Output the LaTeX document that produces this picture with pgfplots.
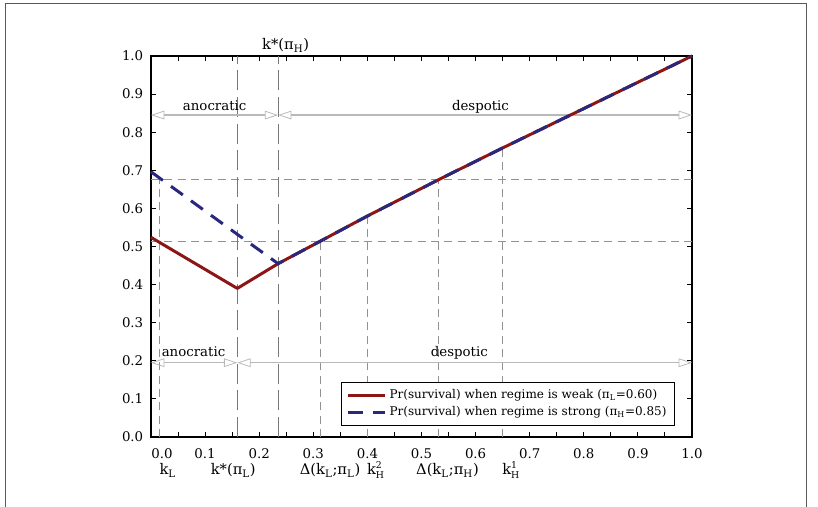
\documentclass[border=0pt]{standalone}
\usepackage{fontspec}
\setmainfont{DejaVu Serif}
\usepackage{pgfplots}
\pgfplotsset{compat=1.18}
\usetikzlibrary{arrows.meta}
\definecolor{myred}{RGB}{140,22,22}
\definecolor{myblue}{RGB}{40,40,125}
\definecolor{refgray}{RGB}{145,145,145}
\definecolor{kgray}{RGB}{120,120,120}
\definecolor{arrgray}{RGB}{185,185,185}
\newcommand{\supsub}[2]{\makebox[0pt][l]{\raisebox{5.2pt}{\fontsize{7}{8}\selectfont #1}}\raisebox{-2.6pt}{\fontsize{7}{8}\selectfont #2}}
\begin{document}
\begin{tikzpicture}[x=0.75pt,y=0.75pt]
\useasboundingbox (0,0) rectangle (818,507);
\draw[black!65, line width=0.75pt] (5,0) -- (5,503) -- (806,503) -- (806,0);
\begin{axis}[
  at={(113.25pt,52.5pt)}, anchor=south west,
  width=405.75pt, height=285.75pt, scale only axis,
  xmin=0, xmax=1, ymin=0, ymax=1,
  clip=false,
  axis line style={line width=1.5pt},
  tick style={black, line width=0.75pt},
  tick align=inside,
  major tick length=3.5pt, minor tick length=3.5pt,
  xtick={0,0.1,0.2,0.3,0.4,0.5,0.6,0.7,0.8,0.9,1},
  xticklabels={{},0.1,0.2,0.3,0.4,0.5,0.6,0.7,0.8,0.9,1.0},
  minor x tick num=1,
  extra x ticks={0.0205},
  extra x tick labels={0.0},
  extra x tick style={major tick length=0pt},
  ytick={0,0.1,0.2,0.3,0.4,0.5,0.6,0.7,0.8,0.9,1},
  yticklabels={0.0,0.1,0.2,0.3,0.4,0.5,0.6,0.7,0.8,0.9,1.0},
  ticklabel style={font=\fontsize{10}{12}\selectfont},
  xticklabel style={yshift=-5pt},
  yticklabel style={xshift=-2.3pt},
  legend style={at={(0.9686,0.145)}, anchor=north east, draw=black, line width=0.75pt,
    font=\fontsize{9}{11}\selectfont, inner xsep=4pt, inner ysep=3.5pt, row sep=0.6pt,
    cells={anchor=west}},
  legend image code/.code={\draw[#1] (0pt,0pt) -- (28pt,0pt);},
]
% reference lines
\addplot[forget plot, refgray, line width=0.75pt, dash pattern=on 6pt off 4pt] coordinates {(0,0.675) (1,0.675)};
\addplot[forget plot, refgray, line width=0.75pt, dash pattern=on 6pt off 4pt] coordinates {(0,0.514) (1,0.514)};
\addplot[forget plot, refgray, line width=0.75pt, dash pattern=on 6pt off 4pt] coordinates {(0.0148,0) (0.0148,0.675)};
\addplot[forget plot, kgray, line width=0.75pt, dash pattern=on 15pt off 5pt] coordinates {(0.1595,0) (0.1595,1)};
\addplot[forget plot, kgray, line width=0.75pt, dash pattern=on 15pt off 5pt] coordinates {(0.235,0) (0.235,1)};
\addplot[forget plot, refgray, line width=0.75pt, dash pattern=on 6pt off 4pt] coordinates {(0.313,0) (0.313,0.514)};
\addplot[forget plot, refgray, line width=0.75pt, dash pattern=on 6pt off 4pt] coordinates {(0.4,0) (0.4,0.58)};
\addplot[forget plot, refgray, line width=0.75pt, dash pattern=on 6pt off 4pt] coordinates {(0.531,0) (0.531,0.675)};
\addplot[forget plot, refgray, line width=0.75pt, dash pattern=on 6pt off 4pt] coordinates {(0.649,0) (0.649,0.758)};
% regime arrows
\tikzset{reg/.style={arrgray, line width=1.1pt,
  {Triangle[open,length=10pt,width=6.5pt,line width=0.6pt]}-{Triangle[open,length=10pt,width=6.5pt,line width=0.6pt]}}}
\draw[reg] (axis cs:0,0.845) -- (axis cs:0.235,0.845);
\draw[reg] (axis cs:0.235,0.845) -- (axis cs:1,0.845);
\draw[reg] (axis cs:0,0.195) -- (axis cs:0.1595,0.195);
\draw[reg] (axis cs:0.1595,0.195) -- (axis cs:1,0.195);
\node[anchor=base, font=\fontsize{10}{12}\selectfont] at (axis cs:0.1177,0.858) {anocratic};
\node[anchor=base, font=\fontsize{10}{12}\selectfont] at (axis cs:0.609,0.858) {despotic};
\node[anchor=base, font=\fontsize{10}{12}\selectfont] at (axis cs:0.0786,0.211) {anocratic};
\node[anchor=base, font=\fontsize{10}{12}\selectfont] at (axis cs:0.570,0.211) {despotic};
% data
\addplot[myred, line width=2.25pt, line join=round] coordinates {
  (0,0.524) (0.1595,0.390) (0.235,0.455) (0.313,0.514) (0.4,0.580)
  (0.531,0.675) (0.649,0.758) (0.8,0.862) (1,1)};
\addlegendentry{Pr(survival) when regime is weak (π\textsubscript{L}=0.60)}
\addplot[myblue, line width=2.25pt, dash pattern=on 11pt off 7.5pt] coordinates {
  (0,0.696) (0.1595,0.532) (0.235,0.455) (0.313,0.514) (0.4,0.580)
  (0.531,0.675) (0.649,0.758) (0.8,0.862) (1,1)};
\addlegendentry{Pr(survival) when regime is strong (π\textsubscript{H}=0.85)}
% labels
\node[anchor=base, font=\fontsize{11}{13}\selectfont] at ([yshift=4.5pt]axis cs:0.249,1) {k*(π\textsubscript{H})};
\tikzset{klab/.style={anchor=base, font=\fontsize{11}{13}\selectfont, yshift=-28.5pt}}
\node[klab] at (axis cs:0.031,0) {k\textsubscript{L}};
\node[klab] at (axis cs:0.152,0) {k*(π\textsubscript{L})};
\node[klab] at (axis cs:0.331,0) {Δ(k\textsubscript{L};π\textsubscript{L})};
\node[klab] at (axis cs:0.415,0) {k\supsub{2}{H}};
\node[klab] at (axis cs:0.548,0) {Δ(k\textsubscript{L};π\textsubscript{H})};
\node[klab] at (axis cs:0.665,0) {k\supsub{1}{H}};
\end{axis}
\end{tikzpicture}
\end{document}
